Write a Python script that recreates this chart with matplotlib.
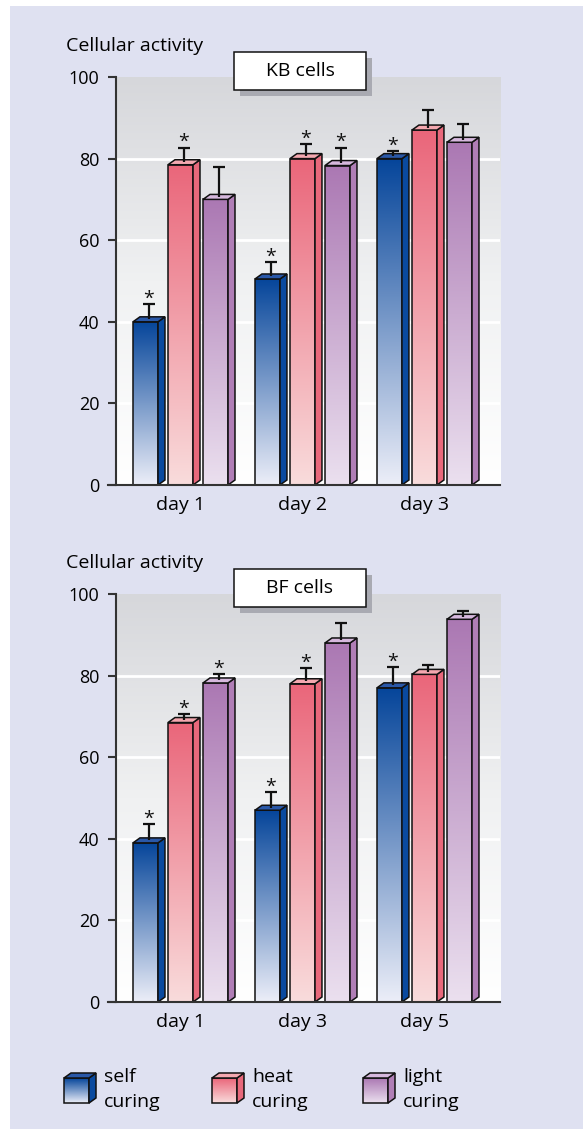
import matplotlib
matplotlib.use("Agg")
import matplotlib.pyplot as plt
import numpy as np
from matplotlib.colors import LinearSegmentedColormap
from matplotlib.patches import Rectangle, Polygon

plt.rcParams['font.family'] = ['Open Sans', 'DejaVu Sans']

# datos
series = ["self curing", "heat curing", "light curing"]

kb_days = ["day 1", "day 2", "day 3"]
kb_self = [40, 50.5, 80]
kb_heat = [78.5, 80, 87]
kb_light = [70, 78.3, 84]
kb_self_err = [4.4, 4.2, 1.8]
kb_heat_err = [4.2, 3.5, 4.9]
kb_light_err = [8, 4.4, 4.6]
kb_self_sig = [1, 1, 1]
kb_heat_sig = [1, 1, 0]
kb_light_sig = [0, 1, 0]

bf_days = ["day 1", "day 3", "day 5"]
bf_self = [39, 47, 77]
bf_heat = [68.5, 78, 80.3]
bf_light = [78.2, 88, 93.8]
bf_self_err = [4.6, 4.5, 5]
bf_heat_err = [2, 3.8, 2.2]
bf_light_err = [2.2, 5, 2.1]
bf_self_sig = [1, 1, 1]
bf_heat_sig = [1, 1, 0]
bf_light_sig = [1, 0, 0]

# colores (frente arriba, frente abajo, lado, tapa)
colores = [
    ("#05459a", "#eceef8", "#0a4a9f", "#2a58a8"),
    ("#ea667a", "#f9dcdc", "#e8687b", "#f4a8b0"),
    ("#ab78b3", "#ebe0ef", "#b07eb6", "#d6b8dd"),
]

BG = "#dfe1f1"
W, H = 583, 1129
FS = 14

fig = plt.figure(figsize=(W / 100, H / 100), dpi=100)
fig.patch.set_facecolor("white")

# fondo lavanda
ax_bg = fig.add_axes([0, 0, 1, 1], zorder=-5)
ax_bg.set_xlim(0, W)
ax_bg.set_ylim(H, 0)
ax_bg.axis("off")
ax_bg.add_patch(Rectangle((10, 6), W - 10, H - 6, color=BG, lw=0))

width = 0.205
offs = [-0.287, 0, 0.287]
dx = 0.057
dy = 1.22

grad = np.linspace(0, 1, 256).reshape(-1, 1)
bg_cmap = LinearSegmentedColormap.from_list("bgc", ["#ffffff", "#f0f1f2", "#d6d7db"])


def dibujar(ax, dias, vals, errs, sigs):
    ax.set_xlim(-0.529, 2.619)
    ax.set_ylim(0, 100)
    ax.patch.set_alpha(0)
    ax.imshow(grad, extent=[-0.529, 2.619, 0, 100], origin="lower", cmap=bg_cmap,
              aspect="auto", zorder=0)
    for g in [20, 40, 60, 80]:
        ax.axhline(g, color="white", lw=2, zorder=1)
    x = np.arange(len(dias))
    for s in range(3):
        top, bot, side, cap = colores[s]
        cmap = LinearSegmentedColormap.from_list("c%d" % s, [bot, top])
        for i in range(len(dias)):
            x0 = x[i] + offs[s] - width / 2
            h = vals[s][i]
            ax.imshow(grad, extent=[x0, x0 + width, 0, h], origin="lower", cmap=cmap,
                      aspect="auto", zorder=2)
            ax.add_patch(Rectangle((x0, 0), width, h, fill=False, ec="#111111", lw=1.1, zorder=3))
            ax.add_patch(Polygon([(x0 + width, 0), (x0 + width + dx, dy), (x0 + width + dx, h + dy),
                                  (x0 + width, h)], fc=side, ec="#111111", lw=1.1, zorder=3))
            ax.add_patch(Polygon([(x0, h), (x0 + dx, h + dy), (x0 + width + dx, h + dy),
                                  (x0 + width, h)], fc=cap, ec="#111111", lw=1.1, zorder=3))
            xe = x0 + width / 2 + dx / 2
            ye = h + errs[s][i]
            ax.plot([xe, xe], [h + dy / 2, ye], color="#111111", lw=1.6, zorder=4,
                    solid_capstyle="butt")
            ax.plot([xe - 0.05, xe + 0.05], [ye, ye], color="#111111", lw=1.6, zorder=4,
                    solid_capstyle="butt")
            if sigs[s][i]:
                ax.text(xe, ye + 0.1, "*", ha="center", va="baseline", fontsize=14,
                        color="#111111", zorder=5, clip_on=False)
    for sp in ["top", "right", "bottom"]:
        ax.spines[sp].set_visible(False)
    ax.spines["left"].set_color("#333333")
    ax.spines["left"].set_linewidth(1.5)
    ax.axhline(0, xmin=-0.021, xmax=1, color="#333333", lw=1.5, clip_on=False, zorder=6)
    ax.set_yticks([0, 20, 40, 60, 80, 100])
    ax.tick_params(axis="y", direction="out", length=6, width=1.5, color="#333333",
                   labelsize=13, pad=6)
    ax.set_xticks(x)
    ax.set_xticklabels(dias)
    ax.tick_params(axis="x", length=0, labelsize=FS, pad=8)


ax1 = fig.add_axes([116 / W, 1 - 485 / H, 384 / W, 408 / H])
dibujar(ax1, kb_days, [kb_self, kb_heat, kb_light], [kb_self_err, kb_heat_err, kb_light_err],
        [kb_self_sig, kb_heat_sig, kb_light_sig])

ax2 = fig.add_axes([116 / W, 1 - 1002 / H, 384 / W, 408 / H])
dibujar(ax2, bf_days, [bf_self, bf_heat, bf_light], [bf_self_err, bf_heat_err, bf_light_err],
        [bf_self_sig, bf_heat_sig, bf_light_sig])

# capa superior: titulos, etiquetas y leyenda
ov = fig.add_axes([0, 0, 1, 1], zorder=10)
ov.set_xlim(0, W)
ov.set_ylim(H, 0)
ov.axis("off")
ov.patch.set_alpha(0)

for ytop, titulo in [(52, "KB cells"), (569, "BF cells")]:
    ov.add_patch(Rectangle((240, ytop + 6), 132, 38, color="#a9aab2", lw=0))
    ov.add_patch(Rectangle((234, ytop), 132, 38, fc="white", ec="#111111", lw=1.1))
    ov.text(300, ytop + 19, titulo, ha="center", va="center", fontsize=FS)

ov.text(66, 46, "Cellular activity", ha="left", va="center", fontsize=FS)
ov.text(66, 563, "Cellular activity", ha="left", va="center", fontsize=FS)

leg_x = [64, 212, 363]
for s in range(3):
    top, bot, side, cap = colores[s]
    cmap = LinearSegmentedColormap.from_list("l%d" % s, [bot, top])
    x0 = leg_x[s]
    ov.imshow(grad, extent=[x0, x0 + 25, 1103, 1078], origin="lower", cmap=cmap,
              aspect="auto", zorder=2)
    ov.add_patch(Rectangle((x0, 1078), 25, 25, fill=False, ec="#111111", lw=1.1, zorder=3))
    ov.add_patch(Polygon([(x0 + 25, 1078), (x0 + 32, 1073), (x0 + 32, 1098), (x0 + 25, 1103)],
                         fc=side, ec="#111111", lw=1.1, zorder=3))
    ov.add_patch(Polygon([(x0, 1078), (x0 + 7, 1073), (x0 + 32, 1073), (x0 + 25, 1078)],
                         fc=cap, ec="#111111", lw=1.1, zorder=3))
    palabra, curado = series[s].split(" ")
    ov.text(x0 + 40, 1077, palabra, ha="left", va="center", fontsize=FS)
    ov.text(x0 + 40, 1102, curado, ha="left", va="center", fontsize=FS)
ov.set_xlim(0, W)
ov.set_ylim(H, 0)

fig.savefig("out.png", dpi=100)
